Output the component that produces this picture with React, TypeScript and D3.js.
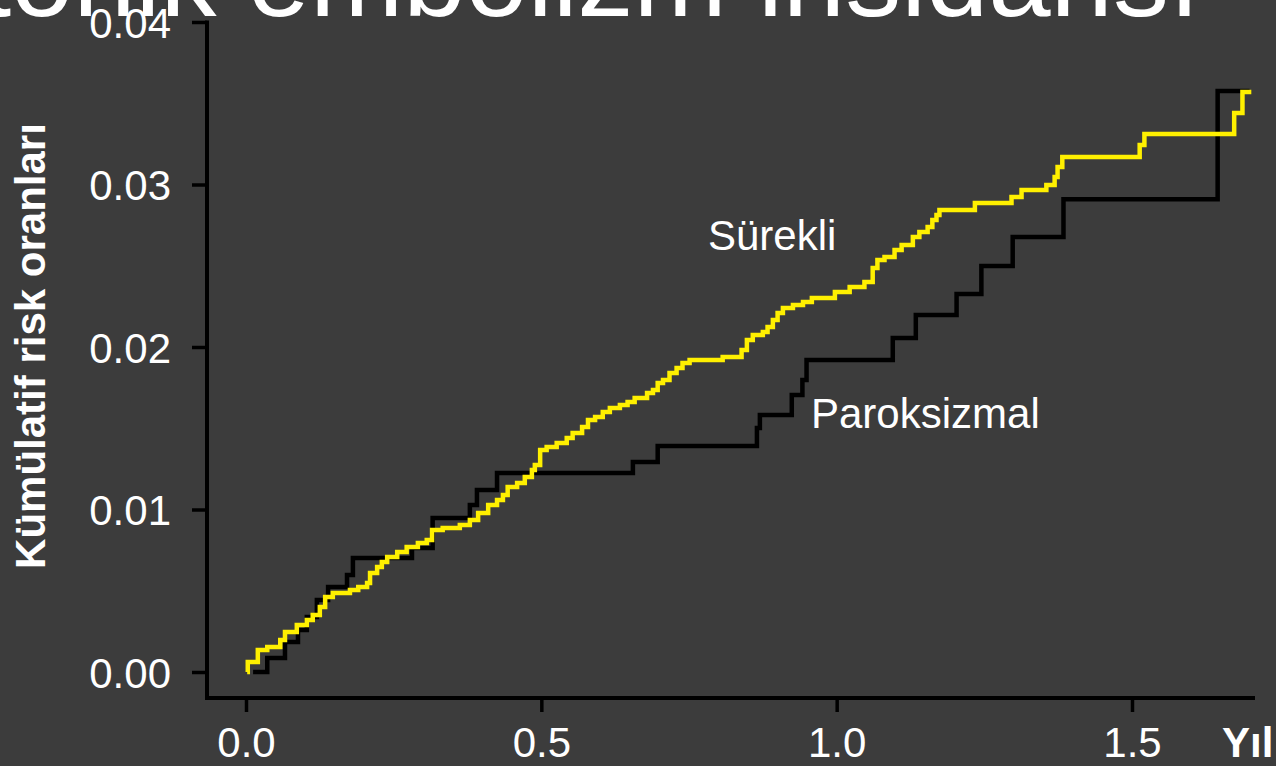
import React, { useEffect, useRef } from 'react';
import * as d3 from 'd3';

// step times (years) and cumulative risk after each step
const persistentTimes = [0.002, 0.003, 0.020, 0.036, 0.058, 0.066, 0.086, 0.103, 0.113, 0.125, 0.134, 0.147, 0.176, 0.190, 0.205, 0.210, 0.222, 0.230, 0.239, 0.256, 0.272, 0.291, 0.306, 0.315, 0.333, 0.362, 0.379, 0.393, 0.410, 0.425, 0.435, 0.443, 0.459, 0.472, 0.484, 0.489, 0.498, 0.509, 0.526, 0.543, 0.553, 0.569, 0.579, 0.591, 0.604, 0.616, 0.633, 0.646, 0.658, 0.679, 0.689, 0.697, 0.706, 0.717, 0.729, 0.739, 0.751, 0.807, 0.839, 0.848, 0.858, 0.875, 0.883, 0.892, 0.900, 0.909, 0.926, 0.943, 0.958, 0.997, 1.022, 1.047, 1.061, 1.069, 1.081, 1.098, 1.110, 1.129, 1.140, 1.154, 1.162, 1.169, 1.174, 1.234, 1.296, 1.313, 1.355, 1.369, 1.374, 1.382, 1.513, 1.521, 1.673, 1.687, 1.702];
const persistentRisk = [0, 0.00062, 0.00135, 0.00154, 0.00197, 0.00246, 0.00289, 0.0032, 0.00351, 0.004, 0.00462, 0.00486, 0.00505, 0.00523, 0.00548, 0.00609, 0.00646, 0.00677, 0.00708, 0.00738, 0.00769, 0.00794, 0.00812, 0.00874, 0.00886, 0.00905, 0.00935, 0.00978, 0.01028, 0.01058, 0.01089, 0.01138, 0.01163, 0.012, 0.01243, 0.01274, 0.01366, 0.01385, 0.01409, 0.0144, 0.01471, 0.01508, 0.01551, 0.01569, 0.016, 0.01625, 0.01643, 0.01662, 0.01686, 0.01717, 0.01735, 0.01778, 0.01797, 0.0184, 0.01871, 0.01902, 0.0192, 0.01938, 0.01982, 0.02043, 0.02074, 0.02092, 0.02123, 0.02166, 0.02209, 0.0224, 0.02258, 0.02277, 0.02302, 0.02338, 0.02369, 0.024, 0.02486, 0.02535, 0.02554, 0.02597, 0.02628, 0.02677, 0.02708, 0.02738, 0.02782, 0.02812, 0.02843, 0.02886, 0.02923, 0.02966, 0.02997, 0.03046, 0.03108, 0.03169, 0.03243, 0.03311, 0.0344, 0.03569, 0.03569];

const paroxysmalTimes = [0.012, 0.036, 0.066, 0.088, 0.103, 0.120, 0.139, 0.171, 0.181, 0.281, 0.316, 0.379, 0.391, 0.425, 0.655, 0.697, 0.865, 0.870, 0.924, 0.942, 0.949, 1.095, 1.134, 1.203, 1.245, 1.298, 1.384, 1.645, 1.699];
const paroxysmalRisk = [0, 0.00086, 0.00185, 0.00258, 0.00338, 0.00443, 0.00523, 0.00597, 0.00702, 0.00763, 0.00948, 0.01028, 0.0112, 0.01225, 0.01292, 0.01391, 0.01502, 0.01582, 0.01705, 0.01797, 0.0192, 0.02055, 0.02197, 0.02326, 0.02498, 0.02677, 0.0291, 0.03575, 0.03575];

const xTicks = [0, 0.5, 1.0, 1.5];
const yTicks = [0, 0.01, 0.02, 0.03, 0.04];

const FONT = "Arial, 'Liberation Sans', sans-serif";

const App: React.FC = () => {
  const ref = useRef<SVGSVGElement>(null);

  useEffect(() => {
    if (!ref.current) return;
    const svg = d3.select(ref.current);
    svg.selectAll('*').remove();

    const width = 1276;
    const height = 766;

    const x = d3.scaleLinear().domain([0, 1.5]).range([246, 1132]);
    const y = d3.scaleLinear().domain([0, 0.04]).range([672, 22]);
    const axisX = 207;
    const axisY = 698;

    svg.append('rect').attr('width', width).attr('height', height).attr('fill', '#3c3c3c');

    // title, cut off at the top like the original slide
    svg.append('text')
      .attr('x', 1200)
      .attr('y', 16)
      .attr('text-anchor', 'end')
      .style('font-family', FONT)
      .style('font-size', '112px')
      .attr('fill', '#ffffff')
      .text('tonik embolizm insidansı');

    // y axis
    const gy = svg.append('g')
      .attr('transform', `translate(${axisX},0)`)
      .call(d3.axisLeft(y).tickValues(yTicks).tickFormat(d3.format('.2f')).tickSize(15).tickPadding(21));
    gy.select('.domain').remove();
    gy.selectAll('line').attr('stroke', '#000').attr('stroke-width', 3.5);
    gy.selectAll('text')
      .attr('fill', '#fff')
      .attr('dy', '0.36em')
      .style('font-family', FONT)
      .style('font-size', '42px');

    // x axis
    const gx = svg.append('g')
      .attr('transform', `translate(0,${axisY})`)
      .call(d3.axisBottom(x).tickValues(xTicks).tickFormat(d3.format('.1f')).tickSize(14).tickPadding(15));
    gx.select('.domain').remove();
    gx.selectAll('line').attr('stroke', '#000').attr('stroke-width', 3.5);
    gx.selectAll('text')
      .attr('fill', '#fff')
      .style('font-family', FONT)
      .style('font-size', '42px');

    // spines
    svg.append('line')
      .attr('x1', axisX).attr('x2', axisX)
      .attr('y1', y(0.04) - 1.5).attr('y2', axisY + 2)
      .attr('stroke', '#000').attr('stroke-width', 4);
    svg.append('line')
      .attr('x1', axisX - 2).attr('x2', 1255)
      .attr('y1', axisY).attr('y2', axisY)
      .attr('stroke', '#000').attr('stroke-width', 4);

    const line = d3.line<[number, number]>()
      .x(d => x(d[0]))
      .y(d => y(d[1]))
      .curve(d3.curveStepAfter);

    const paroxysmal = paroxysmalTimes.map((t, i) => [t, paroxysmalRisk[i]] as [number, number]);
    const persistent = persistentTimes.map((t, i) => [t, persistentRisk[i]] as [number, number]);

    svg.append('path')
      .datum(paroxysmal)
      .attr('fill', 'none')
      .attr('stroke', '#000')
      .attr('stroke-width', 4.5)
      .attr('d', line);

    svg.append('path')
      .datum(persistent)
      .attr('fill', 'none')
      .attr('stroke', '#fff000')
      .attr('stroke-width', 4.5)
      .attr('d', line);

    // labels
    svg.append('text')
      .attr('x', 708).attr('y', 250)
      .attr('fill', '#fff')
      .style('font-family', FONT)
      .style('font-size', '42px')
      .text('Sürekli');

    svg.append('text')
      .attr('x', 811).attr('y', 428)
      .attr('fill', '#fff')
      .style('font-family', FONT)
      .style('font-size', '42px')
      .text('Paroksizmal');

    svg.append('text')
      .attr('x', 1222).attr('y', 757)
      .attr('fill', '#fff')
      .style('font-family', FONT)
      .style('font-size', '42px')
      .style('font-weight', 'bold')
      .text('Yıl');

    svg.append('text')
      .attr('transform', 'translate(45,346) rotate(-90)')
      .attr('text-anchor', 'middle')
      .attr('fill', '#fff')
      .style('font-family', FONT)
      .style('font-size', '42px')
      .style('font-weight', 'bold')
      .text('Kümülatif risk oranları');
  }, []);

  return (
    <svg
      ref={ref}
      width={1276}
      height={766}
      style={{ position: 'absolute', left: 0, top: 0, display: 'block' }}
    />
  );
};

export default App;
